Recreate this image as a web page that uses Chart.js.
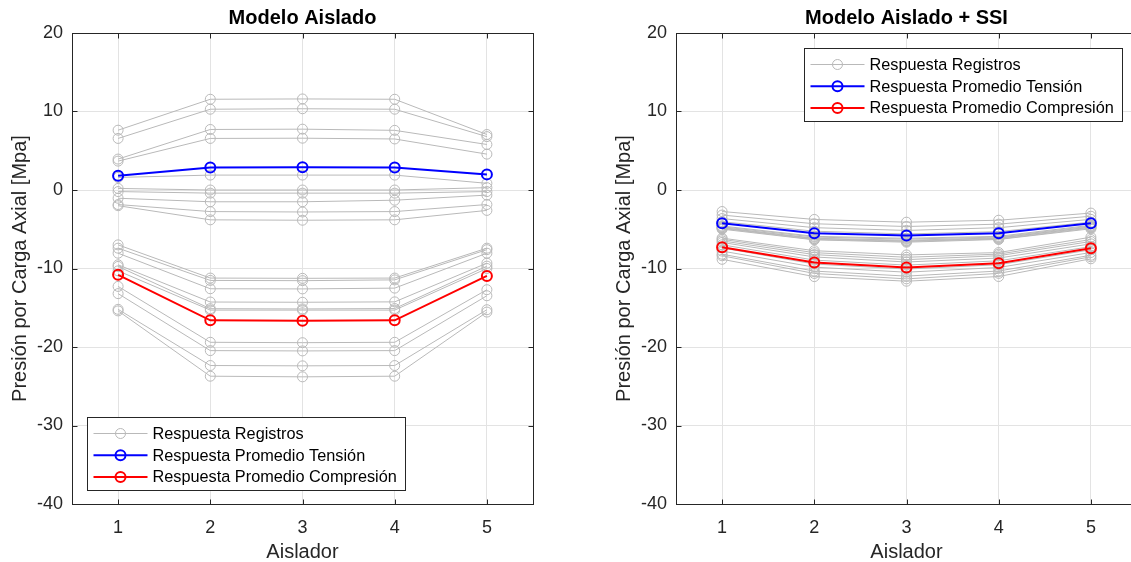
<!DOCTYPE html>
<html><head><meta charset="utf-8">
<script src="https://cdn.jsdelivr.net/npm/chart.js@4.4.1/dist/chart.umd.min.js"></script>
<style>
html,body{margin:0;padding:0;background:#fff;overflow:hidden;width:1131px;height:562px}
#wrap{position:relative;width:1131px;height:562px;overflow:hidden;background:#fff}
canvas{position:absolute;top:0}
#a{left:0px}
#b{left:604px}
</style></head><body>
<div id="wrap"><canvas id="a" width="540" height="562"></canvas><canvas id="b" width="540" height="562"></canvas></div>
<script>
// ---------- data ----------
const aisladores = ['1', '2', '3', '4', '5'];
const yTickValues = [-40, -30, -20, -10, 0, 10, 20];
const chartTitles = ['Modelo Aislado', 'Modelo Aislado + SSI'];
const legendLabels = ['Respuesta Registros', 'Respuesta Promedio Tensión', 'Respuesta Promedio Compresión'];
const xTitle = 'Aislador';
const yTitle = 'Presión por Carga Axial [Mpa]';

// Modelo Aislado
const aisladoRegistrosTension = [
  [7.62, 11.56, 11.60, 11.56, 7.07],
  [6.57, 10.29, 10.35, 10.29, 6.80],
  [3.94, 7.71, 7.75, 7.60, 5.80],
  [3.68, 6.57, 6.60, 6.50, 4.57],
  [1.60, 1.90, 1.90, 1.90, 0.85],
  [0.20, 0.00, 0.00, 0.00, 0.30],
  [-0.20, -0.40, -0.40, -0.40, -0.20],
  [-1.05, -1.50, -1.50, -1.30, -0.65],
  [-1.85, -2.75, -2.80, -2.75, -1.85],
  [-2.00, -3.80, -3.85, -3.80, -2.60]
];
const aisladoRegistrosCompresion = [
  [-6.99, -11.22, -11.25, -11.22, -7.41],
  [-7.41, -11.52, -11.55, -11.45, -7.60],
  [-8.05, -12.58, -12.60, -12.50, -8.05],
  [-9.53, -14.27, -14.30, -14.25, -9.32],
  [-9.74, -15.12, -15.15, -15.10, -9.70],
  [-10.30, -15.30, -15.30, -15.30, -10.00],
  [-12.28, -19.40, -19.45, -19.40, -12.70],
  [-13.20, -20.46, -20.50, -20.46, -13.47],
  [-15.20, -22.36, -22.40, -22.36, -15.25],
  [-15.40, -23.72, -23.80, -23.72, -15.55]
];
const aisladoPromedioTension = [1.82, 2.88, 2.90, 2.88, 1.99];
const aisladoPromedioCompresion = [-10.80, -16.60, -16.65, -16.60, -10.95];

// Modelo Aislado + SSI
const ssiRegistrosTension = [
  [-2.74, -3.75, -4.10, -3.85, -2.94],
  [-3.19, -4.30, -4.65, -4.35, -3.34],
  [-3.64, -4.80, -5.15, -4.80, -3.74],
  [-4.04, -5.25, -5.60, -5.30, -4.09],
  [-4.59, -5.90, -6.15, -5.90, -4.49],
  [-4.69, -6.00, -6.25, -6.00, -4.59],
  [-4.79, -6.15, -6.40, -6.10, -4.69],
  [-4.84, -6.20, -6.50, -6.15, -4.74],
  [-4.89, -6.30, -6.55, -6.25, -4.84],
  [-4.99, -6.35, -6.65, -6.30, -4.94]
];
const ssiRegistrosCompresion = [
  [-6.13, -7.73, -8.27, -7.97, -6.01],
  [-6.28, -7.98, -8.57, -8.17, -6.31],
  [-6.48, -8.23, -8.87, -8.37, -6.56],
  [-6.68, -8.53, -9.17, -8.67, -6.86],
  [-6.98, -8.93, -9.57, -9.02, -7.21],
  [-7.38, -9.43, -10.07, -9.52, -7.61],
  [-7.78, -9.83, -10.47, -9.87, -7.96],
  [-8.18, -10.33, -10.97, -10.32, -8.31],
  [-8.38, -10.63, -11.32, -10.62, -8.51],
  [-8.83, -11.03, -11.62, -11.02, -8.76]
];
const ssiPromedioTension = [-4.24, -5.50, -5.80, -5.50, -4.24];
const ssiPromedioCompresion = [-7.28, -9.23, -9.87, -9.32, -7.41];

// ---------- styling ----------
const FONT = '"Liberation Sans", Arial, Helvetica, sans-serif';
const TXT = '#262626';
const GRID = '#e3e3e3';
const GRAY = '#b9b9b9';

function buildDatasets(tension, compresion, promT, promC) {
  const ds = [];
  ds.push({label: legendLabels[1], data: promT, borderColor: '#0000ff', borderWidth: 2,
    pointRadius: 5, pointBorderWidth: 2, pointBorderColor: '#0000ff', pointBackgroundColor: 'rgba(0,0,0,0)', order: 0});
  ds.push({label: legendLabels[2], data: promC, borderColor: '#ff0000', borderWidth: 2,
    pointRadius: 5, pointBorderWidth: 2, pointBorderColor: '#ff0000', pointBackgroundColor: 'rgba(0,0,0,0)', order: 0});
  tension.concat(compresion).forEach(r => ds.push({label: legendLabels[0], data: r, borderColor: GRAY, borderWidth: 1,
    pointRadius: 5, pointBorderWidth: 1, pointBorderColor: GRAY, pointBackgroundColor: 'rgba(0,0,0,0)', order: 1}));
  return ds;
}

const boxPlugin = {
  id: 'matBox',
  afterDraw(chart, args, opts) {
    const {ctx, chartArea: a, scales: {x, y}} = chart;
    ctx.save();
    ctx.strokeStyle = TXT;
    ctx.lineWidth = 1;
    const L = Math.round(a.left) + 0.5, R = Math.round(a.right) + 0.5;
    const T = Math.round(a.top) + 0.5, B = Math.round(a.bottom) + 0.5;
    ctx.strokeRect(L, T, R - L, B - T);
    ctx.beginPath();
    x.ticks.forEach((t, i) => {
      const px = Math.round(x.getPixelForTick(i)) + 0.5;
      ctx.moveTo(px, B); ctx.lineTo(px, B - 5);
      ctx.moveTo(px, T); ctx.lineTo(px, T + 5);
    });
    y.ticks.forEach((t, i) => {
      const py = Math.round(y.getPixelForTick(i)) + 0.5;
      ctx.moveTo(L, py); ctx.lineTo(L + 5, py);
      ctx.moveTo(R, py); ctx.lineTo(R - 5, py);
    });
    ctx.stroke();

    // legend
    const w = 318, h = 73;
    const bx = opts.corner === 'bl' ? Math.round(a.left + 15) + 0.5 : Math.round(a.right - 15 - w) + 0.5;
    const by = opts.corner === 'bl' ? Math.round(a.bottom - 14 - h) + 0.5 : Math.round(a.top + 15) + 0.5;
    ctx.fillStyle = '#ffffff';
    ctx.fillRect(bx, by, w, h);
    ctx.strokeStyle = TXT;
    ctx.strokeRect(bx, by, w, h);
    const entries = [chart.data.datasets[2], chart.data.datasets[0], chart.data.datasets[1]];
    entries.forEach((d, i) => {
      const ry = by + 16 + i * 21.7;
      ctx.strokeStyle = d.borderColor;
      ctx.lineWidth = d.borderWidth;
      ctx.beginPath();
      ctx.moveTo(bx + 6, ry); ctx.lineTo(bx + 60, ry);
      ctx.stroke();
      ctx.beginPath();
      ctx.arc(bx + 33, ry, 5, 0, Math.PI * 2);
      ctx.stroke();
      ctx.fillStyle = '#000000';
      ctx.font = '16.3px ' + FONT;
      ctx.textBaseline = 'middle';
      ctx.textAlign = 'left';
      ctx.fillText(legendLabels[i], bx + 65, ry + 1);
    });
    ctx.restore();
  }
};

function makeChart(id, title, tension, compresion, promT, promC, corner) {
  return new Chart(document.getElementById(id), {
    type: 'line',
    data: {labels: aisladores, datasets: buildDatasets(tension, compresion, promT, promC)},
    plugins: [boxPlugin],
    options: {
      responsive: false,
      animation: false,
      layout: {padding: {left: 0, right: 7, top: 0, bottom: 0}},
      plugins: {
        legend: {display: false},
        tooltip: {enabled: false},
        title: {display: true, text: title, fullSize: false, color: '#000000',
          font: {family: FONT, size: 20, weight: 'bold', lineHeight: 1.2}, padding: {top: 6, bottom: 3}},
        matBox: {corner: corner}
      },
      scales: {
        x: {
          type: 'category', offset: true,
          grid: {color: GRID, drawTicks: false, offset: false},
          border: {display: false},
          ticks: {color: TXT, font: {family: FONT, size: 18}, padding: 13},
          title: {display: true, text: xTitle, color: TXT, font: {family: FONT, size: 20, lineHeight: 1}, padding: {top: 0, bottom: 0}},
          afterFit(s) { s.height = 58; }
        },
        y: {
          min: -40, max: 20,
          afterBuildTicks(s) { s.ticks = yTickValues.map(v => ({value: v})); },
          grid: {color: GRID, drawTicks: false},
          border: {display: false},
          ticks: {color: TXT, font: {family: FONT, size: 18}, padding: 9, callback: v => String(v)},
          title: {display: true, text: yTitle, color: TXT, font: {family: FONT, size: 20, lineHeight: 1.2}, padding: {top: 8, bottom: 0}},
          afterFit(s) { s.width = 72; }
        }
      }
    }
  });
}

makeChart('a', chartTitles[0], aisladoRegistrosTension, aisladoRegistrosCompresion, aisladoPromedioTension, aisladoPromedioCompresion, 'bl');
makeChart('b', chartTitles[1], ssiRegistrosTension, ssiRegistrosCompresion, ssiPromedioTension, ssiPromedioCompresion, 'tr');
</script>
</body></html>
